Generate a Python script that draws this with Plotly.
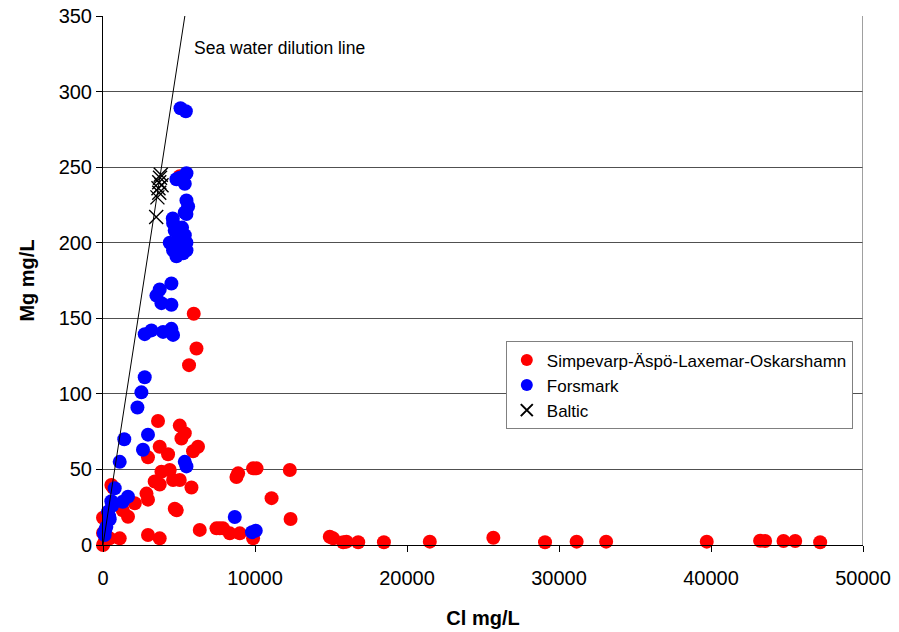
import plotly.graph_objects as go

# Simpevarp-Äspö-Laxemar-Oskarshamn groundwaters (Cl, Mg in mg/L)
simp_cl = [5050, 5970, 6150, 5660, 3620, 5050, 5380, 5160, 6250, 5925,
           3730, 4280, 2960, 3845, 4390, 3400, 3730, 4610, 5050, 5820,
           2860, 2960, 2090, 1645, 4720, 4850, 550, 330, 0, 660, 1300,
           6365, 7465, 7680, 7900, 8340, 9000, 9875,
           2960, 3730, 1100, 440, 0, 100, 200, 0,
           8780, 8890, 9875, 10100, 12290, 11090, 12340,
           14920, 15140, 15800, 16020, 16790, 18480, 21500, 25680, 29080,
           31160, 33100, 39720, 43230, 43560, 44770, 45540, 47180]
simp_mg = [244, 153, 130, 119, 82, 79, 74, 70.5, 65, 62,
           65, 60, 58, 48.5, 49.6, 42, 40, 43, 43, 38,
           34, 30, 27.6, 18.7, 24, 23, 39.7, 18.7, 18, 38, 23,
           10, 11, 11, 11, 7.7, 7.7, 4.4,
           6.6, 4.4, 4.4, 4.4, 0, 2, 6, 8,
           45, 47.4, 50.7, 50.7, 49.6, 31, 17.2,
           5.5, 4.4, 1.8, 2.2, 1.8, 1.8, 2.2, 4.8, 1.8,
           2.2, 2.2, 2.2, 2.8, 2.6, 2.6, 2.6, 1.8]

# Forsmark groundwaters
fors_cl = [5100, 5450, 4830, 5490, 5380, 5050, 5490, 5600, 5380, 4590,
           4610, 5490, 4720, 5380, 4390, 5490, 4610, 5490, 4830, 5270,
           5050, 4900, 5200, 4500, 3730, 3515, 3845, 4500, 2745, 3185,
           3950, 4500, 4610, 2745, 2525, 2265, 2960, 1400, 2630, 1100,
           5380, 5490, 770, 1645, 1300, 550, 330, 440, 220, 50, 110,
           8670, 9800, 10050, 600, 400, 150]
fors_mg = [289, 287, 242, 246, 239, 243, 228, 224, 220, 216,
           213, 219, 208, 205, 200, 200, 195, 195, 191, 193,
           204, 198, 210, 173, 169, 165, 160, 159, 139.5, 142,
           141, 143, 139, 111, 101, 91, 73, 70, 63, 55,
           55, 52, 37.5, 32, 28.6, 29, 22, 17, 12, 8, 6.6,
           18.5, 8.5, 9.5, 26, 19, 10]

# Baltic Sea samples
baltic_cl = [3500, 3580, 3650, 3700, 3750, 3800, 3850, 3700]
baltic_mg = [217, 230, 236, 240, 243, 245, 238, 233]

# Sea water dilution line (end points)
dil_cl = [0, 5385]
dil_mg = [0, 350]

FONT = "Liberation Sans, Arial, sans-serif"

fig = go.Figure()
fig.add_trace(go.Scatter(
    x=simp_cl, y=simp_mg, mode="markers", name="Simpevarp-Äspö-Laxemar-Oskarshamn",
    marker=dict(symbol="circle", size=14, color="#ff0000", line=dict(width=0)),
    cliponaxis=False))
fig.add_trace(go.Scatter(
    x=fors_cl, y=fors_mg, mode="markers", name="Forsmark",
    marker=dict(symbol="circle", size=14, color="#0000ff", line=dict(width=0)),
    cliponaxis=False))
fig.add_trace(go.Scatter(
    x=baltic_cl, y=baltic_mg, mode="markers", name="Baltic",
    marker=dict(symbol="x-thin-open", size=14, color="black",
                line=dict(width=1.4, color="black")),
    cliponaxis=False))
fig.add_trace(go.Scatter(
    x=dil_cl, y=dil_mg, mode="lines", showlegend=False,
    line=dict(color="black", width=1)))

fig.add_annotation(x=5850, y=329, text="Sea water dilution line", showarrow=False,
                   xanchor="left", yanchor="middle",
                   font=dict(family=FONT, size=17.5, color="black"))

# right edge of plot area
fig.add_shape(type="line", xref="x", yref="y", x0=50000, x1=50000, y0=0, y1=350,
              line=dict(color="#808080", width=1.5))

fig.update_layout(
    width=899, height=632,
    margin=dict(l=103, r=36, t=16, b=87),
    paper_bgcolor="white", plot_bgcolor="white",
    font=dict(family=FONT, size=20, color="black"),
    legend=dict(x=0.53, y=0.385, xanchor="left", yanchor="top",
                bgcolor="white", bordercolor="#808080", borderwidth=1,
                font=dict(family=FONT, size=17, color="black"),
                itemsizing="constant", itemwidth=30, tracegroupgap=0),
    xaxis=dict(range=[0, 50000], tickvals=[0, 10000, 20000, 30000, 40000, 50000],
               tickformat="d", showgrid=False, zeroline=False, automargin=False,
               showline=True, linecolor="black", linewidth=1,
               ticks="outside", ticklen=6, tickcolor="black", ticklabelstandoff=9,
               title=dict(text="<b>Cl mg/L</b>", standoff=22,
                          font=dict(family=FONT, size=20))),
    yaxis=dict(range=[0, 350], tickvals=[0, 50, 100, 150, 200, 250, 300, 350],
               showgrid=True, gridcolor="#505050", gridwidth=1, zeroline=False,
               automargin=False,
               showline=True, linecolor="black", linewidth=1,
               ticks="outside", ticklen=6, tickcolor="black",
               title=dict(text="<b>Mg mg/L</b>", standoff=18,
                          font=dict(family=FONT, size=20))),
)

fig.write_html("out.html")
